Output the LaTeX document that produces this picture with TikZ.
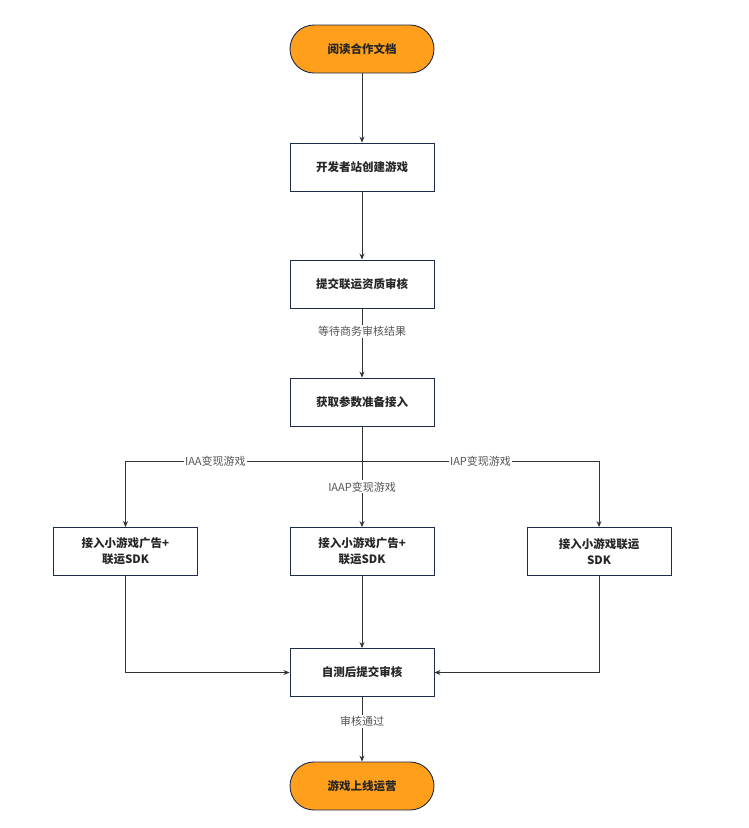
\documentclass[tikz,border=0pt]{standalone}
\usepackage{fontspec}
\newfontfamily\cjk{Noto Sans CJK SC}
\usetikzlibrary{arrows.meta}
\definecolor{bord}{HTML}{1E2A4A}
\definecolor{org}{HTML}{FF9F1C}
\definecolor{lbl}{HTML}{555555}
\begin{document}
\begin{tikzpicture}[x=1pt,y=-1pt,
 box/.style={draw=bord,line width=0.9pt,fill=white,minimum width=144pt,minimum height=48pt,align=center,font=\cjk\bfseries\fontsize{11.5}{16}\selectfont,text=black!85},
 term/.style={box,fill=org,rounded corners=24pt},
 lab/.style={fill=white,inner sep=1.5pt,font=\cjk\fontsize{11}{13}\selectfont,text=lbl},
 arr/.style={draw=black!80,line width=0.8pt,-{Stealth[length=6pt,width=5pt]}}]
\useasboundingbox (0,0) rectangle (749,828);
\node[term] (a) at (362,49) {阅读合作文档};
\node[box] (b) at (362,167) {开发者站创建游戏};
\node[box] (c) at (362,284) {提交联运资质审核};
\node[box] (d) at (362,402) {获取参数准备接入};
\node[box] (l) at (125.5,551.5) {接入小游戏广告+\\联运SDK};
\node[box] (m) at (362,551.5) {接入小游戏广告+\\联运SDK};
\node[box] (r) at (599,551.5) {接入小游戏联运\\SDK};
\node[box] (e) at (362,672.5) {自测后提交审核};
\node[term] (f) at (362,786) {游戏上线运营};
\coordinate (j) at (362,461);
\draw[arr] (a) -- (b);
\draw[arr] (b) -- (c);
\draw[arr] (c) -- node[lab,pos=0.33]{等待商务审核结果} (d);
\draw[arr] (d.south) -- (m.north) node[lab,pos=0.6]{IAAP变现游戏};
\draw[arr] (j) -- node[lab,pos=0.62]{IAA变现游戏} (125.5,461) -- (l.north);
\draw[arr] (j) -- node[lab,pos=0.5]{IAP变现游戏} (599,461) -- (r.north);
\draw[arr] (m) -- (e);
\draw[arr] (l.south) |- (e.west);
\draw[arr] (r.south) |- (e.east);
\draw[arr] (e) -- node[lab,pos=0.38]{审核通过} (f);
\end{tikzpicture}
\end{document}
